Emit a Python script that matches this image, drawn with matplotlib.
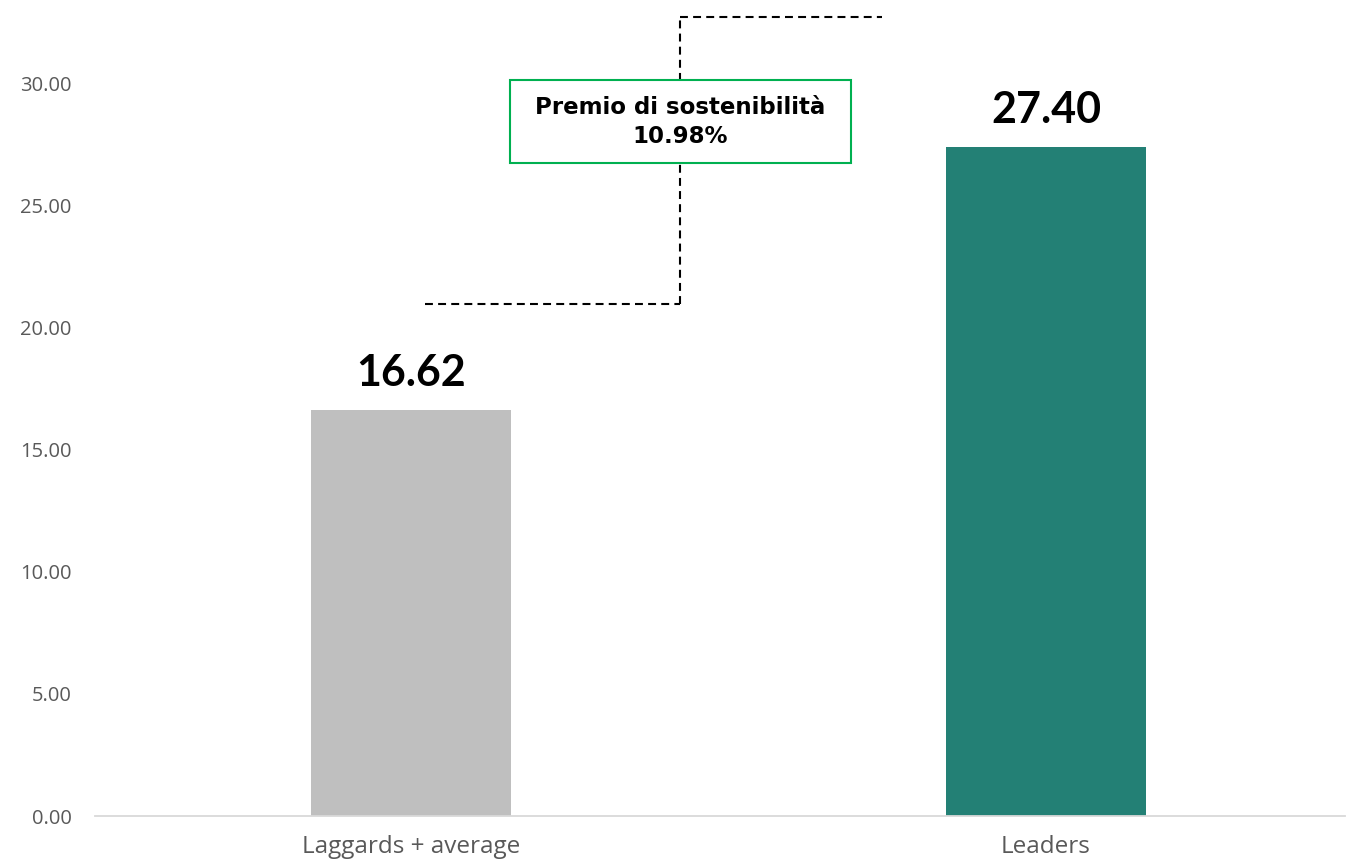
import matplotlib
matplotlib.use("Agg")
import matplotlib.pyplot as plt
from matplotlib.ticker import FormatStrFormatter
from matplotlib.patches import Rectangle

categories = ["Laggards + average", "Leaders"]
values = [16.62, 27.40]
bar_colors = ["#BFBFBF", "#238075"]
premium_label = "Premio di sostenibilità\n10.98%"
yticks = [0, 5, 10, 15, 20, 25, 30]

# connector levels (data units)
low_level = 20.98
high_level = 32.75

fig = plt.figure(figsize=(13.48, 8.65), dpi=100)
ax = fig.add_axes([95/1348, 49/865, (1345-95)/1348, 816/865])

x = list(range(len(categories)))
ax.bar(x, values, width=0.315, color=bar_colors, zorder=2)

ax.set_xlim(-0.498, 1.471)
ax.set_ylim(0, 33.44)
ax.set_yticks(yticks)
ax.yaxis.set_major_formatter(FormatStrFormatter("%.2f"))
ax.set_xticks(x)
ax.set_xticklabels(categories)

for s in ["top", "right", "left"]:
    ax.spines[s].set_visible(False)
ax.spines["bottom"].set_color("#D9D9D9")
ax.spines["bottom"].set_linewidth(1.3)
ax.tick_params(axis="both", length=0)
ax.tick_params(axis="y", pad=17, labelsize=14.5, labelcolor="#595959")
ax.tick_params(axis="x", pad=14, labelsize=17.5, labelcolor="#595959")
for lbl in ax.get_yticklabels() + ax.get_xticklabels():
    lbl.set_family("Open Sans")

for xi, v in zip(x, values):
    ax.text(xi, v + 0.72, f"{v:.2f}", ha="center", va="bottom",
            fontsize=31, fontweight="bold", family="Lato", color="black")

# dashed connector
xm = 0.4236
dash = (0, (3.8, 2.5))
ax.plot([0.022, xm], [low_level, low_level], ls=dash, color="black", lw=1.5, zorder=3)
ax.plot([xm, xm], [low_level, high_level], ls=dash, color="black", lw=1.5, zorder=3)
ax.plot([xm, 0.7417], [high_level, high_level], ls=dash, color="black", lw=1.5, zorder=3)

ax.add_patch(Rectangle((0.156, 26.76), 0.693 - 0.156, 30.16 - 26.76,
                       facecolor="white", edgecolor="#00B050", lw=1.5, zorder=4))
ax.text(xm, 28.44, premium_label, ha="center", va="center", fontsize=16.5,
        fontweight="bold", family="DejaVu Sans", color="black", linespacing=1.3,
        zorder=5)

fig.savefig("out.png", dpi=100)
